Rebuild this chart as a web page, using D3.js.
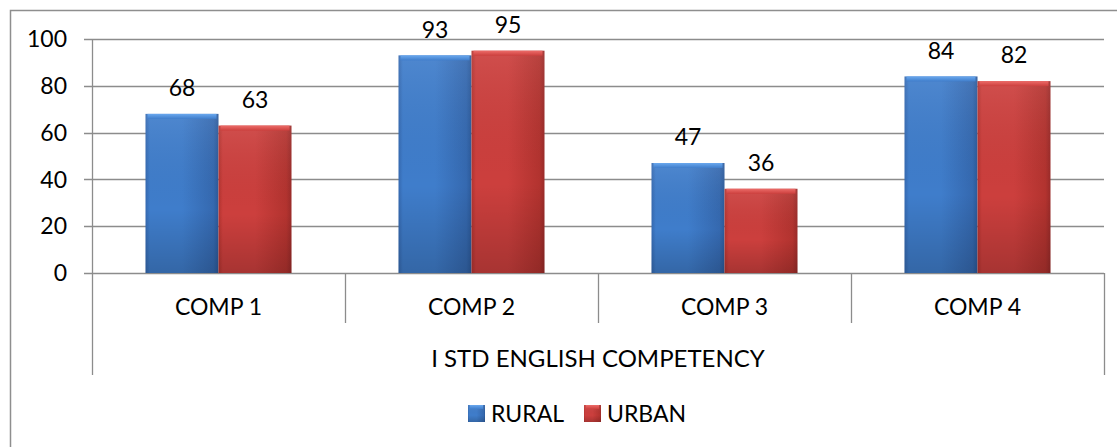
<!DOCTYPE html>
<html>
<head>
<meta charset="utf-8">
<script src="https://cdn.jsdelivr.net/npm/d3@7"></script>
<style>
  body { margin: 0; background: #fff; }
  svg { display: block; }
  text { font-family: Lato, "Open Sans", sans-serif; font-size: 23px; fill: #000; }
</style>
</head>
<body>
<div id="chart"></div>
<script>
var categories = ["COMP 1", "COMP 2", "COMP 3", "COMP 4"];
var seriesNames = ["RURAL", "URBAN"];
var rural = [68, 93, 47, 84];
var urban = [63, 95, 36, 82];
var yTicks = [0, 20, 40, 60, 80, 100];
var groupLabel = "I STD ENGLISH COMPETENCY";

var W = 1117, H = 447;
// note: "top" is a read-only global in browsers, so use plot* names
var plotLeft = 92, plotRight = 1104, plotTop = 39, plotBottom = 273;
var labelOffset = 26;

var seriesValues = [rural, urban];

var palette = {
  RURAL: {light: "#6aa8ee", mid: "#3f7dcb", dark: "#2c5a9a", edge: "#3569b0"},
  URBAN: {light: "#ec6c69", mid: "#cc3f3d", dark: "#9a2b29", edge: "#b3332f"}
};

var svg = d3.select("#chart").append("svg")
  .attr("width", W)
  .attr("height", H);

var defs = svg.append("defs");

// horizontal shading + top bevel, gives the excel "3d" bar look
seriesNames.forEach(function(s) {
  var c = palette[s];
  var g = defs.append("linearGradient").attr("id", "body-" + s)
    .attr("x1", 0).attr("x2", 1).attr("y1", 0).attr("y2", 0);
  g.append("stop").attr("offset", "0%").attr("stop-color", c.edge);
  g.append("stop").attr("offset", "6%").attr("stop-color", c.mid);
  g.append("stop").attr("offset", "50%").attr("stop-color", c.mid);
  g.append("stop").attr("offset", "93%").attr("stop-color", c.edge);
  g.append("stop").attr("offset", "100%").attr("stop-color", c.dark);

  var v = defs.append("linearGradient").attr("id", "shade-" + s)
    .attr("x1", 0).attr("x2", 0).attr("y1", 0).attr("y2", 1);
  v.append("stop").attr("offset", "0%").attr("stop-color", "#fff").attr("stop-opacity", 0.08);
  v.append("stop").attr("offset", "60%").attr("stop-color", "#000").attr("stop-opacity", 0.0);
  v.append("stop").attr("offset", "100%").attr("stop-color", "#000").attr("stop-opacity", 0.18);

  var t = defs.append("linearGradient").attr("id", "top-" + s)
    .attr("x1", 0).attr("x2", 0).attr("y1", 0).attr("y2", 1);
  t.append("stop").attr("offset", "0%").attr("stop-color", c.light);
  t.append("stop").attr("offset", "100%").attr("stop-color", c.mid);
});

var y = d3.scaleLinear().domain([0, 100]).range([plotBottom, plotTop]);

var x0 = d3.scaleBand().domain(categories).range([plotLeft, plotRight]).padding(0);

var x1 = d3.scaleBand().domain(seriesNames)
  .range([0, x0.bandwidth()])
  .paddingInner(0)
  .paddingOuter(0.733);

// outer chart border (runs off the right and bottom of the picture)
svg.append("rect")
  .attr("x", 10.5).attr("y", 10.5)
  .attr("width", W + 20).attr("height", H + 20)
  .attr("fill", "none")
  .attr("stroke", "#8e8e8e")
  .attr("stroke-width", 1.5);

// gridlines
svg.append("g").selectAll("line").data(yTicks).enter().append("line")
  .attr("x1", plotLeft - 8).attr("x2", plotRight)
  .attr("y1", function(d) { return Math.round(y(d)) + 0.5; })
  .attr("y2", function(d) { return Math.round(y(d)) + 0.5; })
  .attr("stroke", "#8c8c8c")
  .attr("stroke-width", 1.3);

// y axis line
svg.append("line")
  .attr("x1", plotLeft + 0.5).attr("x2", plotLeft + 0.5)
  .attr("y1", plotTop).attr("y2", plotBottom)
  .attr("stroke", "#8c8c8c").attr("stroke-width", 1.3);

svg.append("g").selectAll("text").data(yTicks).enter().append("text")
  .attr("x", plotLeft - 25)
  .attr("y", function(d) { return y(d); })
  .attr("dy", "0.36em")
  .attr("text-anchor", "end")
  .text(function(d) { return d; });

// multi level category axis
var bounds = categories.map(function(c) { return x0(c); }).concat([plotRight]);

svg.append("g").selectAll("line").data(bounds).enter().append("line")
  .attr("x1", function(d) { return Math.round(d) + 0.5; })
  .attr("x2", function(d) { return Math.round(d) + 0.5; })
  .attr("y1", plotBottom)
  .attr("y2", function(d, i) { return (i === 0 || i === bounds.length - 1) ? 375 : 323; })
  .attr("stroke", "#8c8c8c").attr("stroke-width", 1.3);

svg.append("g").selectAll("text").data(categories).enter().append("text")
  .attr("x", function(d) { return x0(d) + x0.bandwidth() / 2; })
  .attr("y", 315)
  .attr("text-anchor", "middle")
  .text(function(d) { return d; });

svg.append("text")
  .attr("x", (plotLeft + plotRight) / 2)
  .attr("y", 367)
  .attr("text-anchor", "middle")
  .style("font-size", "24px")
  .text(groupLabel);

// bars
var barData = [];
categories.forEach(function(c, i) {
  seriesNames.forEach(function(s, j) {
    barData.push({cat: c, series: s, value: seriesValues[j][i]});
  });
});

var bars = svg.append("g").selectAll("g").data(barData).enter().append("g")
  .attr("transform", function(d) { return "translate(" + (x0(d.cat) + x1(d.series)) + ",0)"; });

bars.append("rect")
  .attr("x", 0)
  .attr("y", function(d) { return y(d.value); })
  .attr("width", x1.bandwidth())
  .attr("height", function(d) { return plotBottom - y(d.value); })
  .attr("fill", function(d) { return "url(#body-" + d.series + ")"; });

bars.append("rect")
  .attr("x", 0)
  .attr("y", function(d) { return y(d.value); })
  .attr("width", x1.bandwidth())
  .attr("height", function(d) { return plotBottom - y(d.value); })
  .attr("fill", function(d) { return "url(#shade-" + d.series + ")"; });

bars.append("rect")
  .attr("x", 2)
  .attr("y", function(d) { return y(d.value); })
  .attr("width", x1.bandwidth() - 4)
  .attr("height", 5)
  .attr("fill", function(d) { return "url(#top-" + d.series + ")"; });

bars.append("text")
  .attr("x", x1.bandwidth() / 2)
  .attr("y", function(d) { return y(d.value) - labelOffset; })
  .attr("dy", "0.36em")
  .attr("text-anchor", "middle")
  .text(function(d) { return d.value; });

// legend
var legendX = [468, 584];
var legend = svg.append("g").selectAll("g").data(seriesNames).enter().append("g")
  .attr("transform", function(d, i) { return "translate(" + legendX[i] + ",405)"; });

legend.append("rect")
  .attr("width", 17).attr("height", 17)
  .attr("fill", function(d) { return "url(#body-" + d + ")"; });
legend.append("rect")
  .attr("width", 17).attr("height", 17)
  .attr("fill", function(d) { return "url(#shade-" + d + ")"; });
legend.append("rect")
  .attr("x", 2).attr("width", 13).attr("height", 4)
  .attr("fill", function(d) { return "url(#top-" + d + ")"; });

legend.append("text")
  .attr("x", 23)
  .attr("y", 16.5)
  .text(function(d) { return d; });
</script>
</body>
</html>
